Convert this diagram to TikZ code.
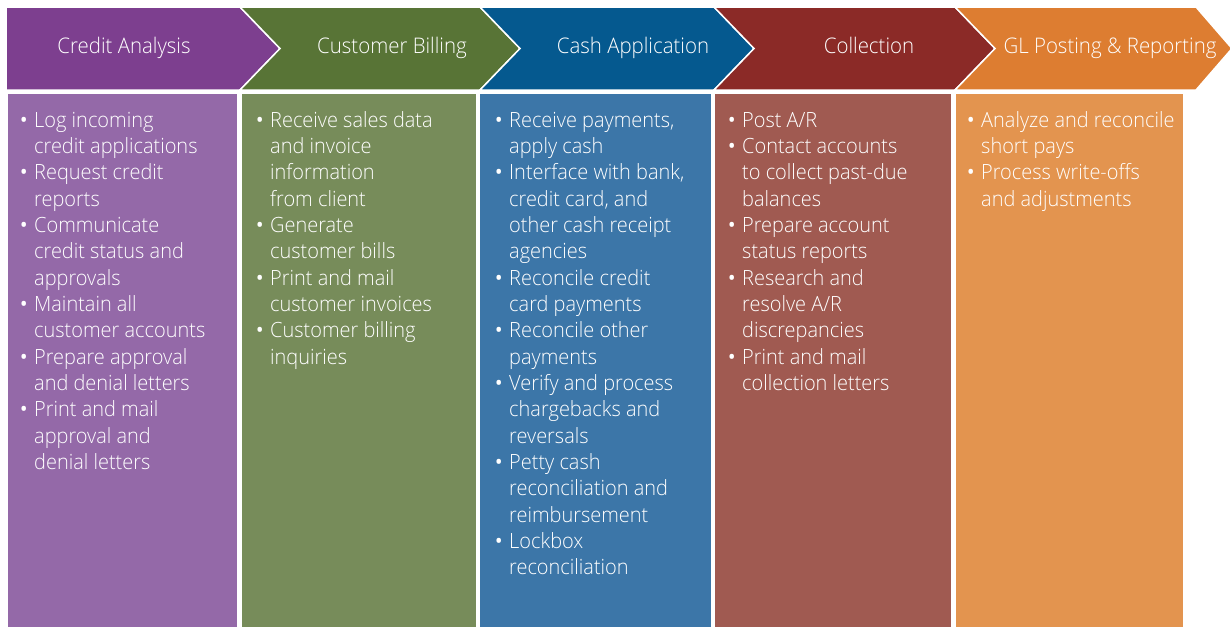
\documentclass[tikz,border=0pt]{standalone}
\usepackage{fontspec}
\setmainfont{Open Sans Light}[FakeStretch=0.95]
\newfontfamily\bulfont{Open Sans}
\definecolor{cPurA}{HTML}{7D3F8F}
\definecolor{cGrnA}{HTML}{587436}
\definecolor{cBluA}{HTML}{05598F}
\definecolor{cRedA}{HTML}{8B2A27}
\definecolor{cOrgA}{HTML}{DD7D31}
\definecolor{cPurB}{HTML}{9469A8}
\definecolor{cGrnB}{HTML}{778C5A}
\definecolor{cBluB}{HTML}{3C76A8}
\definecolor{cRedB}{HTML}{A05A51}
\definecolor{cOrgB}{HTML}{E3944F}
\newcommand{\bul}{\leavevmode\llap{{\bulfont\textbullet}\hspace{6.5pt}}}
\tikzset{
  chev/.style={draw=white, line width=1.5pt, line join=miter},
  head/.style={text=white, inner sep=0pt, anchor=base, font=\fontsize{21.5}{26}\selectfont},
  body/.style={text=white, inner sep=0pt, anchor=base west, font=\fontsize{21}{26.35}\selectfont},
}
\begin{document}
\begin{tikzpicture}[x=1pt,y=-1pt]
\useasboundingbox (0,0) rectangle (1230,627);
% panels
\fill[cPurB] (7.5,94) rectangle (237,627);
\fill[cGrnB] (242,94) rectangle (475.5,627);
\fill[cBluB] (479.5,94) rectangle (711,627);
\fill[cRedB] (714.5,94) rectangle (951,627);
\fill[cOrgB] (956,94) rectangle (1183,627);
% chevrons
\begin{scope}
\clip (0,0) rectangle (1230,627);
\filldraw[chev, fill=cPurA] (6,7) -- (240,7) -- (280,48.5) -- (240,90) -- (6,90) -- cycle;
\filldraw[chev, fill=cGrnA] (240,7) -- (480,7) -- (520,48.5) -- (480,90) -- (240,90) -- (280,48.5) -- cycle;
\filldraw[chev, fill=cBluA] (480,7) -- (714,7) -- (754,48.5) -- (714,90) -- (480,90) -- (520,48.5) -- cycle;
\filldraw[chev, fill=cRedA] (714,7) -- (955,7) -- (995,48.5) -- (955,90) -- (714,90) -- (754,48.5) -- cycle;
\filldraw[chev, fill=cOrgA] (955,7) -- (1196,7) -- (1232,48.5) -- (1196,90) -- (955,90) -- (995,48.5) -- cycle;
\end{scope}
% headers
\node[head] (h1) at (124,53.5) {Credit Analysis};
\node[head] (h2) at (392,53.5) {Customer Billing};
\node[head] (h3) at (633,53.5) {Cash Application};
\node[head] (h4) at (869,53.5) {Collection};
\node[head] (h5) at (1110,53.5) {GL Posting \& Reporting};
% bodies
\node[body] (b1) at (34,127) {\parbox[t]{200pt}{%
\bul Log incoming\\
credit applications\\
\bul Request credit\\
reports\\
\bul Communicate\\
credit status and\\
approvals\\
\bul Maintain all\\
customer accounts\\
\bul Prepare approval\\
and denial letters\\
\bul Print and mail\\
approval and\\
denial letters}};
\node[body] (b2) at (270,127) {\parbox[t]{200pt}{%
\bul Receive sales data\\
and invoice\\
information\\
from client\\
\bul Generate\\
customer bills\\
\bul Print and mail\\
customer invoices\\
\bul Customer billing\\
inquiries}};
\node[body] (b3) at (509,127) {\parbox[t]{200pt}{%
\bul Receive payments,\\
apply cash\\
\bul Interface with bank,\\
credit card, and\\
other cash receipt\\
agencies\\
\bul Reconcile credit\\
card payments\\
\bul Reconcile other\\
payments\\
\bul Verify and process\\
chargebacks and\\
reversals\\
\bul Petty cash\\
reconciliation and\\
reimbursement\\
\bul Lockbox\\
reconciliation}};
\node[body] (b4) at (742,127) {\parbox[t]{200pt}{%
\bul Post A/R\\
\bul Contact accounts\\
to collect past-due\\
balances\\
\bul Prepare account\\
status reports\\
\bul Research and\\
resolve A/R\\
discrepancies\\
\bul Print and mail\\
collection letters}};
\node[body] (b5) at (981,127) {\parbox[t]{200pt}{%
\bul Analyze and reconcile\\
short pays\\
\bul Process write-offs\\
and adjustments}};
\end{tikzpicture}
\end{document}
